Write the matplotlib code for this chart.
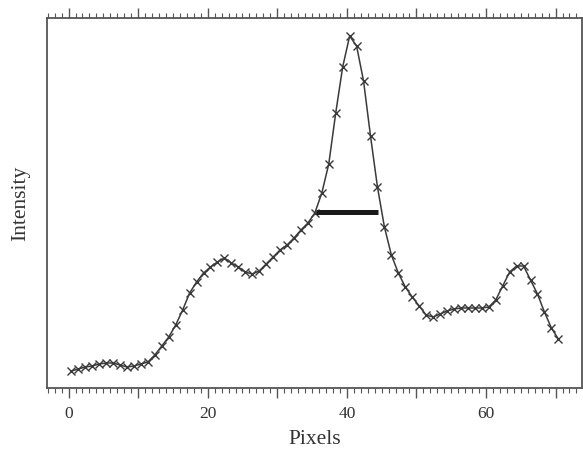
import numpy as np
import matplotlib
matplotlib.use("Agg")
import matplotlib.pyplot as plt
from matplotlib.ticker import MultipleLocator, FuncFormatter

plt.rcParams['font.family'] = ['Liberation Serif', 'DejaVu Serif']

# sample positions along the profile (pixels)
pixels = np.arange(71) + 0.4
# measured intensity (arbitrary units)
intensity = [17, 19, 21, 22, 24, 25, 25, 23, 21, 22,
             24, 26, 33, 42, 51, 63, 78, 95, 106, 115,
             121, 126, 130, 125, 121, 116, 114, 117, 124, 131,
             138, 143, 150, 158, 165, 175, 195, 224, 275, 321,
             352, 342, 307, 252, 201, 161, 133, 115, 101, 91,
             82, 73, 71, 74, 77, 79, 80, 80, 80, 80,
             81, 88, 102, 116, 122, 122, 108, 94, 76, 60, 49]
# full width at half maximum marker
fwhm_start = 35.5
fwhm_end = 44.45

fig = plt.figure(figsize=(5.83, 4.51), dpi=100)
ax = fig.add_axes([47 / 583, 63 / 451, 535 / 583, 370 / 451])

ax.plot(pixels, intensity, color='#3a3a3a', lw=1.1, marker='x',
        markersize=6, markeredgewidth=1.0)
half = max(intensity) / 2.0
ax.plot([fwhm_start, fwhm_end], [half, half], color='#1a1a1a', lw=3.6,
        solid_capstyle='butt')

ax.set_xlim(-3.1, 73.8)
ax.set_ylim(0, 370)

ax.xaxis.set_major_locator(MultipleLocator(10))
ax.xaxis.set_minor_locator(MultipleLocator(1))
ax.xaxis.set_major_formatter(FuncFormatter(
    lambda v, p: '%d' % v if int(round(v)) % 20 == 0 else ''))
ax.tick_params(axis='x', which='both', direction='out', top=True,
               bottom=True, colors='#555555', labelcolor='#333333')
ax.tick_params(axis='x', which='major', length=7, width=1.0,
               labelsize=12.5, pad=6)
ax.tick_params(axis='x', which='minor', length=3.5, width=0.8)
ax.set_yticks([])

for s in ax.spines.values():
    s.set_color('#555555')
    s.set_linewidth(1.3)

ax.set_xlabel('Pixels', fontsize=15.5, color='#333333', labelpad=6)
ax.set_ylabel('Intensity', fontsize=15.5, color='#333333', labelpad=12)

fig.savefig('out.png', dpi=100)
